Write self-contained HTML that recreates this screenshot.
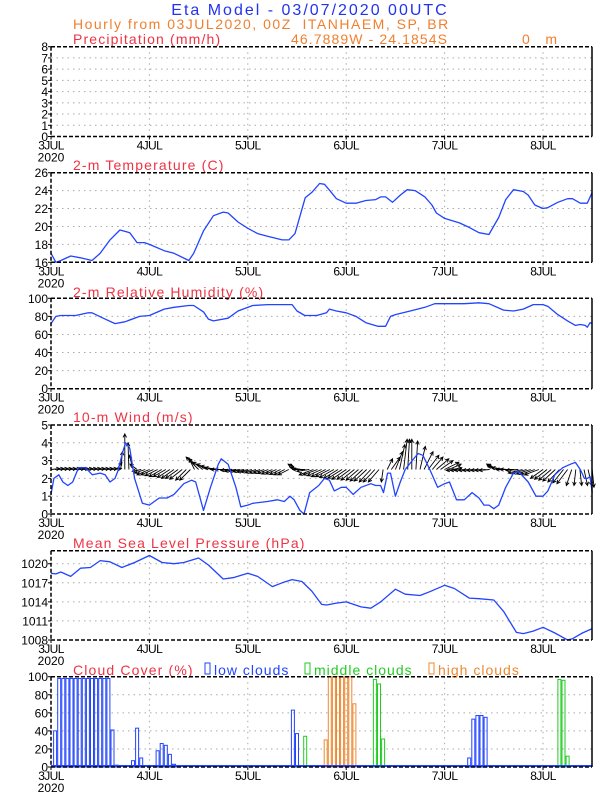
<!DOCTYPE html>
<html><head><meta charset="utf-8"><style>
html,body{margin:0;padding:0;background:#fff;width:612px;height:792px;overflow:hidden}
svg{display:block}
text{font-family:"Liberation Sans",sans-serif;white-space:pre}
</style></head><body>
<svg id="c" width="612" height="792" viewBox="0 0 612 792">
<text x="310" y="15" text-anchor="middle" font-size="16" fill="#2233ee" letter-spacing="2">Eta Model - 03/07/2020 00UTC</text>
<text x="73" y="29" font-size="14" fill="#f08030" letter-spacing="1.5">Hourly from 03JUL2020, 00Z  ITANHAEM, SP, BR</text>
<text x="291" y="44" font-size="14" fill="#f08030" letter-spacing="1.1">46.7889W - 24.1854S</text>
<text x="522" y="44" font-size="14" fill="#f08030">0    m</text>
</svg>
<script>
const hoursTemp=[0,1.2,2.4,4.8,7.2,10,12,14.4,16.8,19.2,21,22.8,24,27.6,30,33.6,34.8,37.2,39.6,42,43.2,45.6,48,50.4,52.8,56.4,58,59.5,62,63.6,65.5,66.7,68,69.6,72,74.4,76.8,79.2,80.4,81.6,83.3,85.2,86.9,88.8,91.2,92.9,94,96,99.6,102,104.4,106.8,109.2,110.9,112.8,115.2,116.4,118,120,121.2,123.6,126,127.2,129.1,130.8,132];
const tempVals=[17.0,16.0,16.2,16.7,16.5,16.2,17.0,18.5,19.6,19.3,18.2,18.2,18.0,17.3,17.0,16.2,17.0,19.5,21.2,21.6,21.5,20.5,19.8,19.2,18.9,18.5,18.5,19.2,23.2,23.8,24.8,24.7,24.0,23.1,22.6,22.6,22.9,23.0,23.3,23.3,22.7,23.5,24.1,24.0,23.3,22.4,21.5,20.9,20.4,19.9,19.3,19.1,21.0,23.0,24.1,23.9,23.5,22.4,22.0,22.1,22.7,23.1,23.1,22.6,22.6,23.8];
const hoursRH=[0,1.2,2.4,6,9.1,10,13.2,15.6,18,21.6,24,27.6,30,33.6,34.8,37.2,38.4,39.6,43.2,45.6,49.2,52.8,58.8,60,61.9,64.8,67.2,67.9,69.6,72,74.4,76.8,79.7,81.6,82.8,84,87.6,91.2,93.6,96,100.8,104.4,106.8,110.4,112.8,115.2,117.6,120,121.2,123.6,126,127.9,129.1,130.3,130.8,131.5,132];
const rhVals=[72,80,81,81,84,84,77,72,74,80,81,88,90,92,92,85,77,75,78,86,92,93,93,86,81,81,84,88,86,84,80,73,69,69,80,82,86,90,94,94,94,95,94,87,86,88,93,93,91,82,75,70,71,70,68,73,72];
const hoursWind=[0,0.7,1.9,2.9,4.1,5.3,6.7,8.4,10.1,12,13.2,14.4,15.6,16.3,17.5,18.2,19.2,20.4,22.3,24,25.2,26.4,28.3,30,32.4,34.3,35.3,37.2,38.9,40.8,41.5,43.2,45.1,46.3,48,49.2,52.8,55.2,56.9,58.3,59.3,60.7,61.7,63.1,65.3,66.7,67.9,69.1,70.8,72,73.7,75.6,78,79.2,80.4,81.1,82.1,82.8,84,85.2,86.4,88.1,89.5,90.7,92.4,94.3,96,97.2,98.9,100.8,102.7,104.4,105.6,106.8,108,109.2,110.9,112.8,114,116.4,118.3,120,121.2,122.9,124.8,126.7,127.9,129.1,130.1,130.8,131.5,132];
const windSpd=[1.1,2.0,2.2,1.8,1.6,1.8,2.6,2.6,2.2,2.3,2.2,1.8,2.0,2.4,3.5,4.0,3.7,2.0,0.6,0.5,0.7,0.9,0.9,1.1,1.7,1.9,1.8,0.2,1.5,2.8,3.1,2.8,1.5,0.4,0.5,0.6,0.7,0.8,0.7,1.0,0.8,0.2,0.0,1.2,1.6,2.0,1.9,1.3,1.5,1.5,1.1,1.5,1.7,1.6,1.6,1.2,2.3,2.3,1.0,1.8,2.5,3.0,3.4,3.3,2.5,1.5,1.7,1.8,0.8,0.8,1.2,0.9,0.5,0.5,0.3,0.5,1.5,2.3,2.4,1.8,1.0,1.0,1.3,2.2,2.6,2.8,2.9,2.5,2.0,2.0,2.1,1.2];
const windU=[.5,.5,.5,.5,.5,.5,.5,.5,.5,.5,.5,.5,.5,.5,.5,.5,.3,.1,0,-.05,-.2,-.4,-.5,-.6,-.7,-.7,-.7,-.7,-.7,-.7,-.7,-.7,-.7,-.6,-.6,-.3,-.7,-.8,-.8,-.8,-.8,-.8,-.7,-.7,-.6,-.6,-.6,-.6,-.6,-.6,-.6,-.6,-.6,-.6,-.6,-.6,-.6,-.6,-.6,-.1,-.5,-.6,-.7,-.7,-.8,-.8,-.8,-.8,-.8,-.8,-.8,-.8,-.8,-.75,-.75,-.7,-.7,-.7,-.65,-.65,-.6,-.1,.3,.5,.4,.3,.2,.1,0,.1,.3,.5,.6,.6,.7,.7,.8,.7,.5,-.6,-.6,-.6,-.6,-.6,-.6,-.6,-.6,-.6,-.4,-.6,-.8,-.8,-.8,-.8,-.7,-.8,-.8,-.8,-.8,-.8,-.7,-.7,-.7,-.7,-.65,-.6,-.6,-.3,-.1,.1,.2,.2,.1];
const windV=[.05,.05,.05,.05,.05,.05,.05,.05,.05,.05,.05,.05,.05,.05,.05,.05,.4,1.0,2.0,1.5,.8,.3,-.1,-.2,-.3,-.3,-.35,-.4,-.4,-.45,-.5,-.5,-.55,-.6,-.6,.6,.7,.6,.4,.3,.2,.1,0,0,-.05,-.1,-.1,-.12,-.15,-.15,-.18,-.2,-.2,-.22,-.25,-.25,-.28,-.3,-.3,.3,.3,.1,0,-.1,-.3,-.3,-.35,-.4,-.4,-.45,-.5,-.5,-.55,-.55,-.6,-.6,-.65,-.65,-.7,-.7,-.7,-.7,.6,.7,1.0,1.4,1.7,1.7,1.7,1.6,1.3,1.0,.8,.7,.6,.5,.4,.3,.1,-.05,-.05,-.05,-.05,-.05,-.05,-.05,-.05,-.05,.3,.3,.2,.1,0,0,-.05,-.2,-.22,-.25,-.28,-.3,-.5,-.55,-.6,-.65,-.7,-.75,-.8,-.9,-.9,-.9,-.9,-.9,-1.0];
const hoursP=[0,1.2,2.4,4.8,7.2,9.6,12,14.4,17.3,20.4,24,27.1,30,32.4,36,38.4,42,44.4,48,50.4,54,56.4,58.8,61.2,63.6,66,67.2,69.6,72,75.6,78,80.4,84,86.4,90,92.4,96,98.4,102,104.4,108,110.4,113.5,115.2,117.6,120,122.9,126,127.2,129.6,132];
const pVals=[1018.5,1018.4,1018.7,1018.0,1019.3,1019.4,1020.5,1020.3,1019.4,1020.2,1021.3,1020.2,1020.0,1020.2,1020.9,1019.8,1017.6,1017.8,1018.5,1018.0,1016.4,1017.0,1017.5,1017.2,1015.7,1013.6,1013.5,1013.8,1014.0,1013.2,1013.0,1014.0,1016.0,1015.2,1015.0,1015.6,1016.6,1016.1,1014.6,1014.5,1014.3,1012.5,1009.2,1009.0,1009.4,1010.0,1009.1,1008.0,1008.2,1009.1,1009.8];
const lowHours=[1,2,3,4,5,6,7,8,9,10,11,12,13,14,15,16,20,21,22,26,27,28,29,30,31,59,60,102,103,104,105,106];
const lowVals=[40,98,98,98,98,98,98,98,98,98,98,98,98,98,41,2,7,43,10,18,26,24,14,3,1,63,37,10,53,57,57,55];
const midHours=[62,79,80,81,124,125,126];
const midVals=[34,97,92,31,97,96,12];
const highHours=[67,68,69,70,71,72,73,74];
const highVals=[30,100,100,100,100,100,100,70];
const dayLabels=["3JUL","4JUL","5JUL","6JUL","7JUL","8JUL"];

const svg=document.getElementById('c');
const NS='http://www.w3.org/2000/svg';
const X0=51,DAY=98.4,X1=592;
function xs(h){return X0+h*DAY/24;}
function mk(t,a,p){const e=document.createElementNS(NS,t);for(const k in a)e.setAttribute(k,a[k]);(p||svg).appendChild(e);return e;}

const panels=[
 {key:'precip',top:46.7,bot:136.5,min:0,max:8,ticks:[0,1,2,3,4,5,6,7,8],title:'Precipitation (mm/h)',ty:44},
 {key:'temp',top:172.7,bot:262.3,min:16,max:26,ticks:[16,18,20,22,24,26],title:'2-m Temperature (C)',ty:170},
 {key:'rh',top:298.3,bot:388.7,min:0,max:100,ticks:[0,20,40,60,80,100],title:'2-m Relative Humidity (%)',ty:297},
 {key:'wind',top:425,bot:514,min:0,max:5,ticks:[0,1,2,3,4,5],title:'10-m Wind (m/s)',ty:422},
 {key:'mslp',top:550.7,bot:640,min:1008,max:1022.05,ticks:[1008,1011,1014,1017,1020],title:'Mean Sea Level Pressure (hPa)',ty:548},
 {key:'cloud',top:676.7,bot:767,min:0,max:100,ticks:[0,20,40,60,80,100],title:'Cloud Cover (%)',ty:675}
];
const P={};
panels.forEach(p=>{
 P[p.key]=p;
 p.y=v=>p.bot-(v-p.min)/(p.max-p.min)*(p.bot-p.top);
 const g=mk('g',{});
 
 
 p.g=g;
 p.ticks.forEach(t=>{
  const yy=p.y(t);
  if(t!==p.min&&Math.abs(yy-p.top)>1){const l=mk('line',{x1:X0,x2:X1,y1:yy,y2:yy,stroke:'#aaa','stroke-width':1,'stroke-dasharray':'1.5,4'},g);
   }
  mk('line',{x1:X0-3,x2:X0,y1:yy,y2:yy,stroke:'#000','stroke-width':1},g);
  const tx=mk('text',{x:X0-3,y:yy+4.5,'text-anchor':'end','font-size':12,fill:'#000'},g);
  tx.textContent=t;
  
  
 });
 dayLabels.forEach((d,i)=>{
  const xx=xs(i*24);
  if(i>0){const l=mk('line',{x1:xx,x2:xx,y1:p.top,y2:p.bot,stroke:'#aaa','stroke-width':1,'stroke-dasharray':'1.5,4'},g);
   }
  mk('line',{x1:xx,x2:xx,y1:p.bot,y2:p.bot+3,stroke:'#000'},g);
  const tx=mk('text',{x:xx,y:p.bot+13,'text-anchor':'middle','font-size':12,fill:'#000','letter-spacing':'-0.6'},g);
  tx.textContent=d;
  
  
 });
 const yr=mk('text',{x:X0,y:p.bot+25,'text-anchor':'middle','font-size':12,fill:'#000'},g);
 yr.textContent='2020';
 
 
 const tt=mk('text',{x:73,y:p.ty,'font-size':14,fill:'#ee3344','letter-spacing':'1.15'},g);
 tt.textContent=p.title;
 
 
});
function frame(p){
 const g=p.g;
 mk('line',{x1:X0,x2:X1,y1:p.top,y2:p.top,stroke:'#000','stroke-width':1.5,'stroke-dasharray':'4,2'},g);
 mk('line',{x1:X0,x2:X1,y1:p.bot,y2:p.bot,stroke:'#000','stroke-width':1.5,'stroke-dasharray':'4,2'},g);
 mk('line',{x1:X0,x2:X0,y1:p.top,y2:p.bot,stroke:'#000','stroke-width':1.5,'stroke-dasharray':'4,2'},g);
 mk('line',{x1:X1,x2:X1,y1:p.top,y2:p.bot,stroke:'#000','stroke-width':1.5},g);
}
function line(p,hs,vs,name){
 const d=hs.map((h,i)=>(i?'L':'M')+xs(h).toFixed(1)+','+p.y(vs[i]).toFixed(1)).join('');
 const e=mk('path',{d:d,fill:'none',stroke:'#2244ff','stroke-width':1.3,'stroke-linejoin':'round'},p.g);
 
 
}
line(P.temp,hoursTemp,tempVals,'temperature-line');
line(P.rh,hoursRH,rhVals,'humidity-line');
line(P.mslp,hoursP,pVals,'pressure-line');
{const p=P.wind,U=(p.bot-p.top)/5,by=p.y(2.5);
 const vg=mk('g',{},p.g);
 
 
 windU.forEach((u,h)=>{
  const x0=xs(h),x1=x0+u*U,y1=by-windV[h]*U;
  const len=Math.hypot(x1-x0,y1-by); if(len<0.5)return;
  const ux=(x1-x0)/len,uy=(y1-by)/len,hs=3.5;
  const d=`M${x0},${by}L${x1},${y1}M${x1-hs*ux+hs*0.5*uy},${y1-hs*uy-hs*0.5*ux}L${x1},${y1}L${x1-hs*ux-hs*0.5*uy},${y1-hs*uy+hs*0.5*ux}`;
  const a=mk('path',{d:d,fill:'none',stroke:'#000','stroke-width':0.9},vg);
  
  
 });
}
line(P.wind,hoursWind,windSpd,'wind-speed-line');
function bars(hs,vs,color,name){
 const p=P.cloud;
 hs.forEach((h,i)=>{
  const x=xs(h)-1.5,y=p.y(vs[i]);
  const r=mk('rect',{x:x,y:y,width:3,height:Math.max(p.bot-y,0.5),fill:'none',stroke:color,'stroke-width':1},p.g);
  
  
 });
}
bars(highHours,highVals,'#f08830','high-cloud-bar');
bars(lowHours,lowVals,'#2244ff','low-cloud-bar');
bars(midHours,midVals,'#22cc22','middle-cloud-bar');
mk('line',{x1:X0,x2:X1,y1:P.cloud.bot-1,y2:P.cloud.bot-1,stroke:'#2244ff','stroke-width':2},P.cloud.g);
panels.forEach(frame);
[['#2244ff','low clouds',205,'legend-low-clouds'],['#22cc22','middle clouds',305,'legend-middle-clouds'],['#f08830','high clouds',429,'legend-high-clouds']].forEach(l=>{
 const g=mk('g',{});
 
 
 mk('rect',{x:l[2],y:663,width:5,height:11,fill:'none',stroke:l[0],'stroke-width':1},g);
 const t=mk('text',{x:l[2]+9,y:675,'font-size':14,fill:l[0],'letter-spacing':'1'},g);
 t.textContent=l[1];
});
</script>
</body></html>
